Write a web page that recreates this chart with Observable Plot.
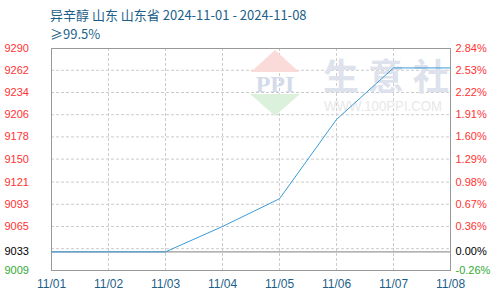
<!DOCTYPE html>
<html><head><meta charset="utf-8">
<script src="https://cdn.jsdelivr.net/npm/d3@7"></script>
<script src="https://cdn.jsdelivr.net/npm/@observablehq/plot@0.6"></script>
<style>
body{margin:0;background:#fff;}
#wrap{position:relative;width:500px;height:300px;}
#wrap svg{position:absolute;left:0;top:0;}
.t{position:absolute;left:50px;font-family:"Noto Sans CJK SC","DejaVu Sans",sans-serif;font-size:13px;line-height:16px;color:#1d5f8a;white-space:nowrap;z-index:2;}
</style></head><body>
<div id="wrap"><div class="t" style="top:7px">异辛醇 山东 山东省 2024-11-01 - 2024-11-08</div><div class="t" style="top:26px">≥99.5%</div></div>
<script>
const dates = ["11/01","11/02","11/03","11/04","11/05","11/06","11/07","11/08"];
const prices = [9033,9033,9033,9065,9100,9200,9265,9265];
const base = 9033;
const leftTicks = [9290,9262,9234,9206,9178,9150,9121,9093,9065,9033,9009];
const rightLabels = ["2.84%","2.53%","2.22%","1.91%","1.60%","1.29%","0.98%","0.67%","0.36%","0.00%","-0.26%"];
const gridY = [9262,9234,9206,9178,9150,9121,9093,9065,9037];
const yDomain = [9009.5,9289.5];

const data = dates.map((d,i)=>({date:d, price:prices[i]}));
const tickColor = v => v > base ? "#ff3333" : v === base ? "#000000" : "#33aa33";
const font = "'Liberation Sans', Arial, sans-serif";

function watermark(index, scales, values, dim) {
  const ns = "http://www.w3.org/2000/svg";
  const g = document.createElementNS(ns, "g");
  const add = (tag, attrs, txt) => { const e = document.createElementNS(ns, tag); for (const k in attrs) e.setAttribute(k, attrs[k]); if (txt) e.textContent = txt; g.appendChild(e); return e; };
  add("path", {d:"M275,50L299,72L251,72Z", fill:"#fbdada"});
  add("path", {d:"M250,94L300,94L275,116Z", fill:"#dcf1dc"});
  add("text", {x:275, y:92, "text-anchor":"middle", "font-family":"'Liberation Serif',serif", "font-weight":"bold", "font-size":24, fill:"#d3dbea"}, "PPI");
  const chars = ["生","意","社"];
  chars.forEach((c, i) => add("text", {x:341 + i*45, y:90, "text-anchor":"middle", "font-family":"'Noto Sans CJK SC',sans-serif", "font-weight":"bold", "font-size":36, fill:"#dde2ed"}, c));
  add("text", {x:324, y:111, "text-anchor":"start", "textLength":118, "lengthAdjust":"spacingAndGlyphs", "font-family":"'Liberation Sans',sans-serif", "font-size":15, fill:"#e8e8e8"}, "WWW.100PPI.COM");
  return g;
}

const chart = Plot.plot({
  width: 500, height: 300,
  marginLeft: 51, marginRight: 50, marginTop: 48, marginBottom: 30,
  x: {type: "point", domain: dates, padding: 0, axis: null},
  y: {domain: yDomain, axis: null},
  color: {type: "identity"},
  style: {fontFamily: font, background: "transparent"},
  marks: [
    Plot.ruleY(gridY, {stroke: "#cccccc", strokeDasharray: "3,2"}),
    Plot.ruleX(dates.slice(1, -1), {stroke: "#cccccc", strokeDasharray: "3,2"}),
    watermark,
    Plot.ruleY([base], {stroke: "#999999", strokeWidth: 1.2}),
    Plot.frame({stroke: "#999999"}),
    Plot.line(data, {x: "date", y: "price", stroke: "#3a9ad9", strokeWidth: 1}),
    Plot.text(leftTicks, {y: d => d, text: d => String(d), frameAnchor: "left", textAnchor: "start", dx: -47, fill: tickColor, fontSize: 11}),
    Plot.text(leftTicks, {y: d => d, text: (d, i) => rightLabels[i], frameAnchor: "right", textAnchor: "start", dx: 5, fill: tickColor, fontSize: 11}),
    Plot.text(dates, {x: d => d, text: d => d, frameAnchor: "bottom", dy: 17, fill: "#1d5f8a", fontSize: 12})
  ]
});
document.getElementById("wrap").appendChild(chart);
</script>
</body></html>
